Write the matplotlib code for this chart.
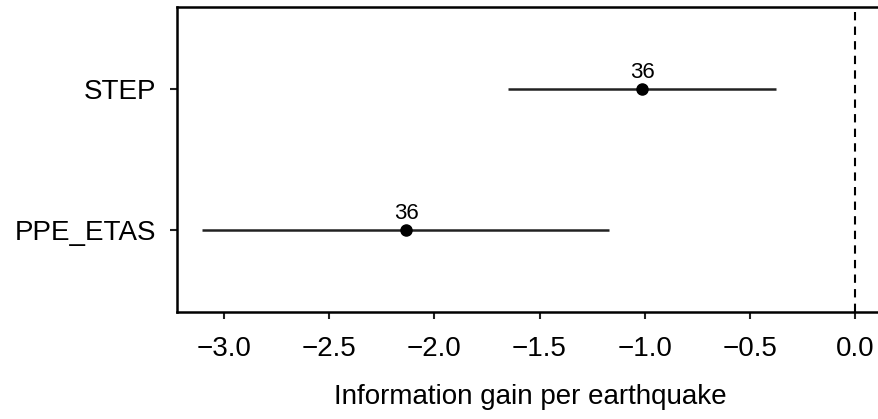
import matplotlib.pyplot as plt

models = ["PPE_ETAS", "STEP"]
gain = [-2.134, -1.012]
lower = [-3.104, -1.649]
upper = [-1.169, -0.375]
counts = [36, 36]

plt.rcParams['font.family'] = ['Liberation Sans', 'DejaVu Sans']

fig = plt.figure(figsize=(8.79, 4.19), dpi=100)
# axes run just past the right edge like in the reference
ax = fig.add_axes([177 / 879, 1 - 312 / 419, 706 / 879, 305 / 419])

ypos = list(range(1, len(models) + 1))
for y, g, lo, hi, n in zip(ypos, gain, lower, upper, counts):
    ax.plot([lo, hi], [y, y], color='#222222', lw=1.8, solid_capstyle='butt')
    ax.plot(g, y, 'o', color='black', ms=8)
    ax.annotate(str(n), (g, y), xytext=(0, 4), textcoords='offset points',
                ha='center', va='bottom', fontsize=16)

ax.axvline(0, color='black', lw=1.5, ls=(0, (4, 3)))

ax.set_yticks(ypos)
ax.set_yticklabels(models)
ax.set_xticks([-3.0, -2.5, -2.0, -1.5, -1.0, -0.5, 0.0])
ax.set_xlim(-3.223, -3.223 + 706 / 210.4)
ax.set_ylim(0.418, 2.58)
ax.tick_params(labelsize=20, width=1.5, length=5, color='#222222', pad=12)
ax.tick_params(axis='y', pad=10)
for s in ax.spines.values():
    s.set_linewidth(1.8)
ax.spines['right'].set_visible(False)
ax.set_xlabel("Information gain per earthquake", fontsize=20, labelpad=16)

fig.savefig("out.png", dpi=100)
